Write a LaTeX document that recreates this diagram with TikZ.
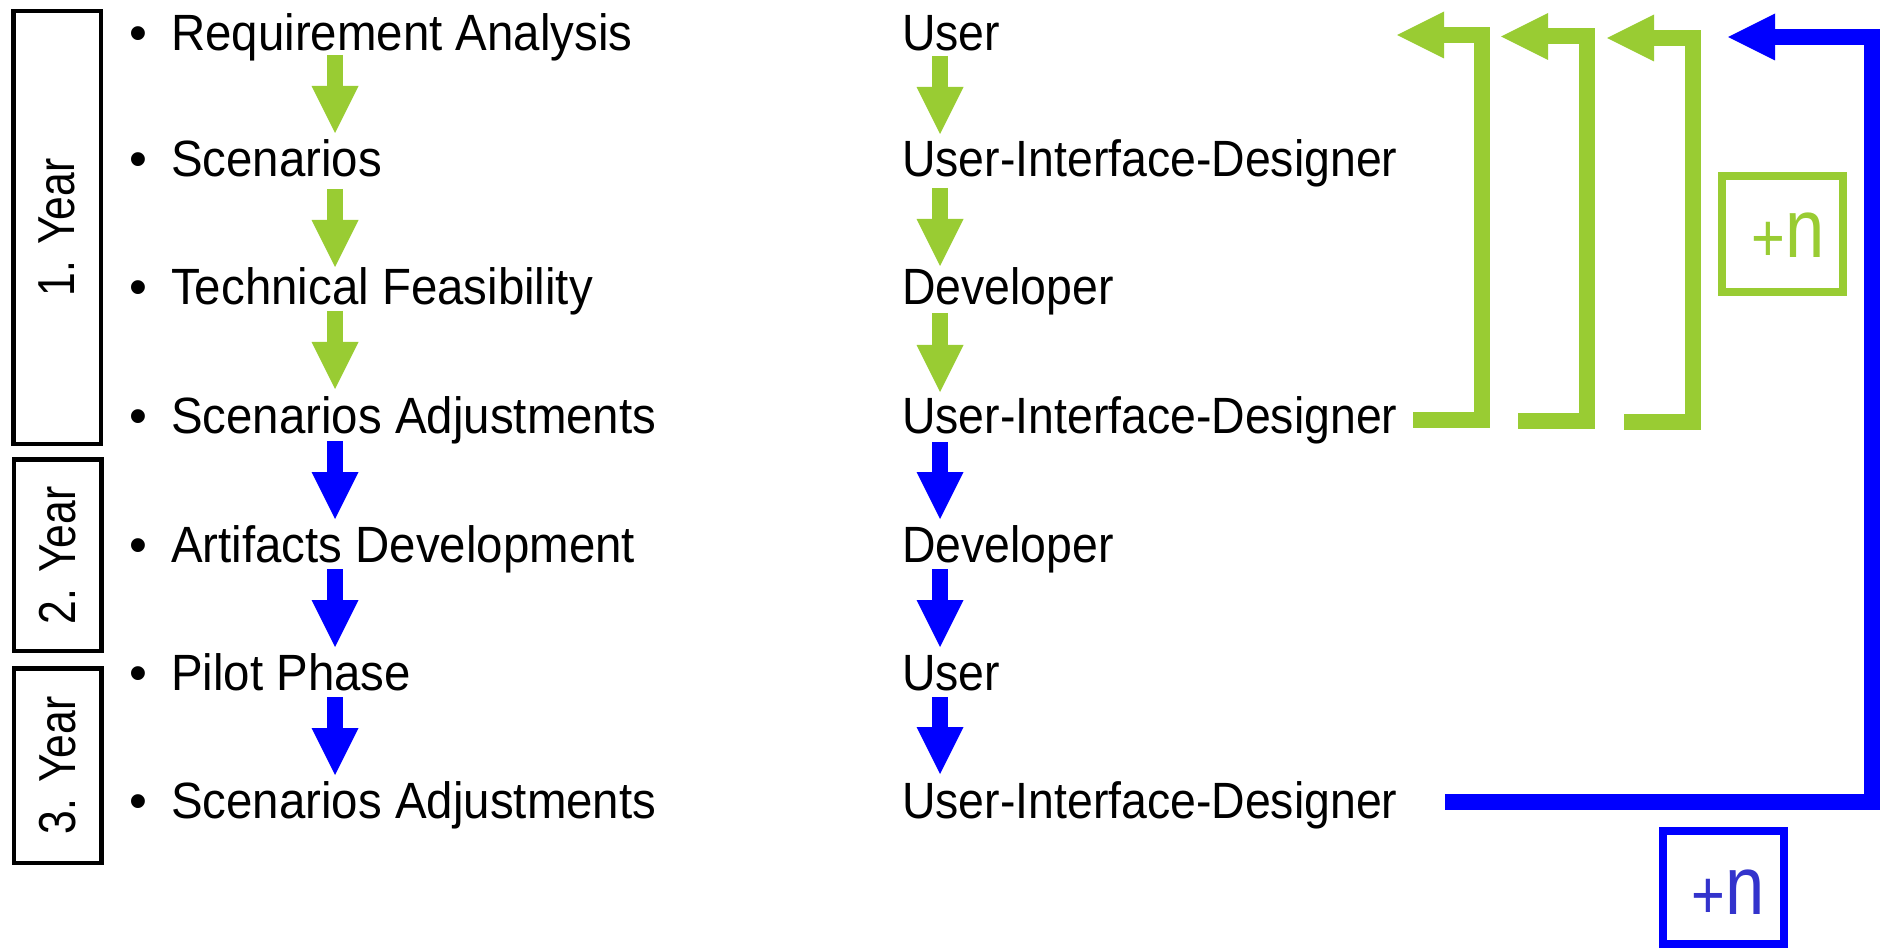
\documentclass[tikz,border=0pt]{standalone}
\usepackage{fontspec}
\setmainfont{Liberation Sans}
\newfontfamily\txtfont[FakeStretch=0.93]{Liberation Sans}
\newfontfamily\rtxtfont[FakeStretch=0.91]{Liberation Sans}
\newfontfamily\yearfont[FakeStretch=0.82]{Liberation Sans}
\newfontfamily\nfont[FakeStretch=0.85]{Liberation Sans}
\usetikzlibrary{arrows.meta}
\definecolor{lgreen}{RGB}{153,204,51}
\definecolor{pblue}{RGB}{0,0,255}
\definecolor{nblue}{RGB}{51,51,204}
\begin{document}
\begin{tikzpicture}[x=1pt,y=-1pt,
  txt/.style={anchor=base west, inner sep=0pt, font=\txtfont\fontsize{51}{51}\selectfont},
  rtxt/.style={anchor=base west, inner sep=0pt, font=\rtxtfont\fontsize{51}{51}\selectfont},
  bul/.style={anchor=base, inner sep=0pt, font=\fontsize{51}{51}\selectfont},
  yearbox/.style={draw, line width=4.5pt, rotate=90, inner sep=0pt, minimum height=87.5pt, font=\yearfont\fontsize{52}{52}\selectfont},
  flowarrow/.style={line width=16pt, -{Triangle[length=47pt,width=47pt,line width=0pt]}},
  looparrow/.style={line width=16pt, line join=miter, -{Triangle[length=47pt,width=47pt,line width=0pt]}},
  nbox/.style={draw, line width=8pt, inner sep=0pt},
  ntext/.style={anchor=base west, inner sep=0pt, font=\nfont}
]
\useasboundingbox (0,0) rectangle (1881,949);

% year boxes
\node[yearbox, minimum width=432.5pt] (y1) at (57,227.5) {1. Year};
\node[yearbox, minimum width=191.5pt] (y2) at (57.5,555.3) {2. Year};
\node[yearbox, minimum width=194.5pt] (y3) at (57.5,765.5) {3. Year};

% left column
\foreach \i/\yy in {1/51,2/177,3/305,4/433,5/562,6/690,7/818}{
  \node[bul] (b\i) at (138,\yy) {•};
}
\node[txt] (l1) at (171,51) {Requirement Analysis};
\node[txt] (l2) at (171,177) {Scenarios};
\node[txt] (l3) at (171,305) {Technical Feasibility};
\node[txt] (l4) at (171,433) {Scenarios Adjustments};
\node[txt] (l5) at (171,562) {Artifacts Development};
\node[txt] (l6) at (171,690) {Pilot Phase};
\node[txt] (l7) at (171,818) {Scenarios Adjustments};

% right column
\node[rtxt] (r1) at (902,51) {User};
\node[rtxt] (r2) at (902,177) {User-Interface-Designer};
\node[rtxt] (r3) at (902,305) {Developer};
\node[rtxt] (r4) at (902,433) {User-Interface-Designer};
\node[rtxt] (r5) at (902,562) {Developer};
\node[rtxt] (r6) at (902,690) {User};
\node[rtxt] (r7) at (902,818) {User-Interface-Designer};

% arrow end points
\coordinate (L1s) at (335,55);  \coordinate (L1e) at (335,133);
\coordinate (L2s) at (335,189); \coordinate (L2e) at (335,267);
\coordinate (L3s) at (335,311); \coordinate (L3e) at (335,389);
\coordinate (L4s) at (335,441); \coordinate (L4e) at (335,519);
\coordinate (L5s) at (335,569); \coordinate (L5e) at (335,647);
\coordinate (L6s) at (335,697); \coordinate (L6e) at (335,775);
\coordinate (R1s) at (940,56);  \coordinate (R1e) at (940,134);
\coordinate (R2s) at (940,188); \coordinate (R2e) at (940,266);
\coordinate (R3s) at (940,313); \coordinate (R3e) at (940,392);
\coordinate (R4s) at (940,442); \coordinate (R4e) at (940,519);
\coordinate (R5s) at (940,569); \coordinate (R5e) at (940,647);
\coordinate (R6s) at (940,697); \coordinate (R6e) at (940,774);

\foreach \i in {1,2,3}{
  \draw[flowarrow, lgreen] (L\i s) -- (L\i e);
  \draw[flowarrow, lgreen] (R\i s) -- (R\i e);
}
\foreach \i in {4,5,6}{
  \draw[flowarrow, pblue] (L\i s) -- (L\i e);
  \draw[flowarrow, pblue] (R\i s) -- (R\i e);
}

% feedback loops
\coordinate (g1s) at (1413,420);  \coordinate (g1k) at (1482,35);   \coordinate (g1e) at (1397,35);
\coordinate (g2s) at (1518,421);  \coordinate (g2k) at (1587,36.5); \coordinate (g2e) at (1501,36.5);
\coordinate (g3s) at (1624,422);  \coordinate (g3k) at (1693,38);   \coordinate (g3e) at (1607,38);
\coordinate (bs)  at (1445,802);  \coordinate (bk)  at (1872,37);   \coordinate (be)  at (1728,37);
\draw[looparrow, lgreen] (g1s) -| (g1k) -- (g1e);
\draw[looparrow, lgreen] (g2s) -| (g2k) -- (g2e);
\draw[looparrow, lgreen] (g3s) -| (g3k) -- (g3e);
\draw[looparrow, pblue] (bs) -| (bk) -- (be);

% +n boxes
\node[nbox, draw=lgreen, minimum width=121pt, minimum height=116pt] (gn) at (1782.5,234) {};
\node[ntext, text=lgreen] (gnt) at (1751.5,258) {\raisebox{-4pt}{\fontsize{68}{68}\selectfont +}\fontsize{83}{83}\selectfont n};
\node[nbox, draw=pblue, minimum width=121pt, minimum height=113pt] (bn) at (1723.5,887.5) {};
\node[ntext, text=nblue] (bnt) at (1691.5,914) {\raisebox{-4pt}{\fontsize{68}{68}\selectfont +}\fontsize{83}{83}\selectfont n};
\end{tikzpicture}
\end{document}
